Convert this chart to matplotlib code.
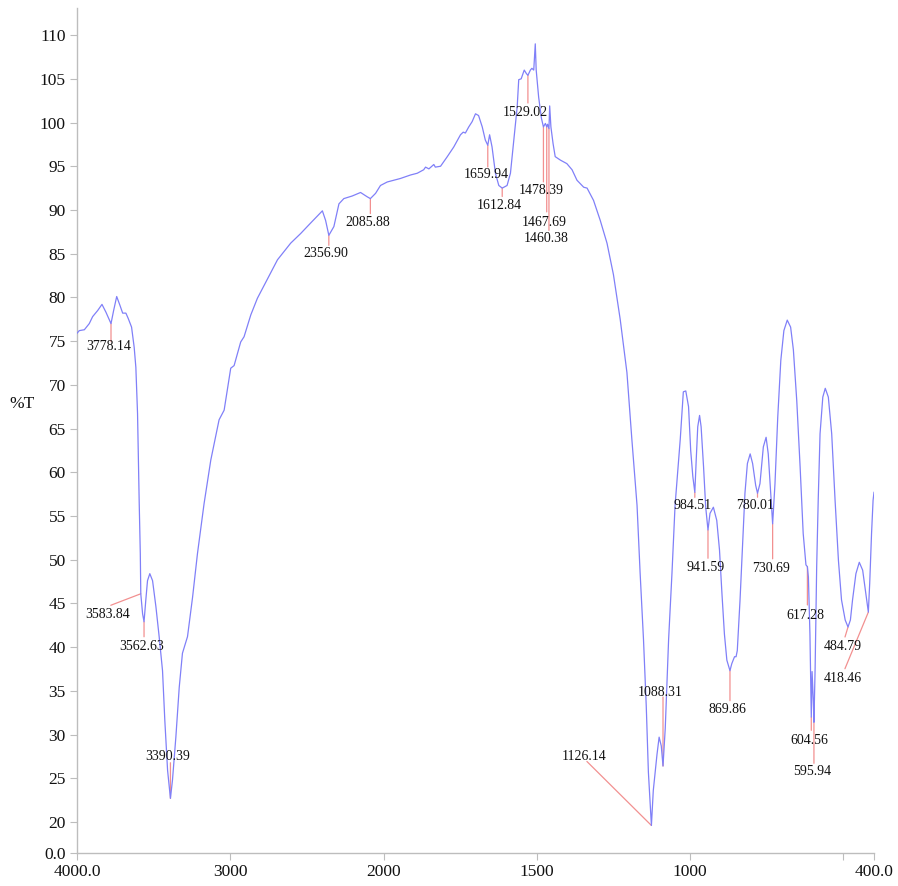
import numpy as np
import matplotlib
matplotlib.use("Agg")
import matplotlib.pyplot as plt

# ---------------- data ----------------
wavenumber = [4000, 3985, 3952, 3920, 3898, 3865, 3837, 3811, 3778.14, 3761, 3741, 3720, 3702, 3681,
              3666, 3644, 3627, 3616, 3605, 3594, 3587, 3583.84, 3572, 3562.63, 3551, 3540, 3525,
              3507, 3485, 3464, 3442, 3427, 3409, 3390.39, 3377, 3355, 3333, 3312, 3279, 3246, 3214,
              3171, 3127, 3073, 3040, 2997, 2975, 2932, 2910, 2866, 2823, 2692, 2606, 2541, 2476,
              2399, 2378, 2356.90, 2324, 2291, 2259, 2204, 2150, 2106, 2085.88, 2052, 2020, 1988,
              1945, 1912, 1890, 1869, 1863, 1852, 1836, 1831, 1814, 1792, 1771, 1749, 1740, 1733,
              1722, 1711, 1700, 1690, 1678, 1668, 1659.94, 1654, 1646, 1635, 1624, 1612.84, 1597,
              1586, 1575, 1564, 1559, 1551, 1541, 1534, 1529.02, 1521, 1516, 1510, 1505, 1502,
              1494, 1485, 1478.39, 1472, 1467.69, 1465, 1460.38, 1458, 1454, 1447, 1440, 1423,
              1402, 1385, 1369, 1347, 1336, 1315, 1293, 1271, 1250, 1228, 1206, 1190, 1173, 1163,
              1152, 1143, 1136, 1126.14, 1120, 1108, 1101, 1094, 1088.31, 1081, 1070, 1059, 1049,
              1032, 1022, 1014, 1005, 998, 991, 984.51, 980, 975, 969, 964, 956, 949, 941.59, 935,
              924, 913, 904, 896, 888, 880, 869.86, 864, 855, 850, 846, 837, 828, 821, 813, 804,
              796, 786, 780.01, 772, 761, 752, 745, 737, 730.69, 723, 714, 704, 694, 683, 672, 663,
              652, 641, 631, 622, 617.28, 614, 609, 604.56, 602, 598, 595.94, 592, 587, 582, 576,
              567, 559, 549, 538, 527, 516, 506, 494, 484.79, 477, 470, 459, 448, 437, 428, 418.46,
              414, 408, 403, 400]
transmittance = [75.9, 76.2, 76.3, 77.0, 77.8, 78.5, 79.2, 78.3, 77.0, 78.5, 80.1, 79.1, 78.2, 78.2,
                 77.6, 76.6, 74.3, 72.0, 66.7, 56.4, 50.7, 46.1, 43.8, 42.9, 45.4, 47.6, 48.4,
                 47.6, 44.6, 41.2, 37.3, 31.6, 25.9, 22.7, 24.8, 29.7, 35.4, 39.3, 41.2, 45.7, 50.7,
                 56.4, 61.4, 66.0, 67.1, 71.9, 72.2, 74.9, 75.5, 78.0, 79.9, 84.3, 86.2, 87.3, 88.5,
                 89.9, 88.8, 87.1, 88.1, 90.7, 91.3, 91.6, 92.0, 91.5, 91.3, 91.9, 92.8, 93.2,
                 93.6, 94.0, 94.2, 94.6, 94.9, 94.7, 95.2, 94.9, 95.0, 96.1, 97.2, 98.6, 98.9, 98.8,
                 99.5, 100.1, 101.0, 100.8, 99.5, 98.0, 97.4, 98.6, 97.2, 94.2, 92.8, 92.5, 92.8,
                 94.2, 98.0, 101.8, 104.9, 105.0, 106.0, 105.6, 105.4, 106.0, 106.2, 106.0, 109.0, 106.0,
                 102.9, 100.5, 99.5, 99.9, 99.5, 99.8, 99.3, 101.9, 99.5, 97.6, 96.1, 95.7,
                 95.3, 94.6, 93.4, 92.6, 92.5, 91.1, 88.8, 86.2, 82.6, 77.5, 71.4, 63.8, 56.2, 48.5,
                 40.9, 33.3, 25.7, 19.6, 23.6, 27.7, 29.7, 28.7, 26.4, 30.7, 40.9, 48.5, 56.2,
                 63.8, 69.2, 69.3, 67.5, 62.5, 59.5, 57.7, 61.4, 65.2, 66.5, 65.2, 60.6, 56.0, 53.4, 55.3,
                 56.0, 54.5, 51.1, 46.1, 41.5, 38.5, 37.3, 38.1, 38.9, 38.9, 39.6, 45.4, 52.2, 57.6, 61.0, 62.1,
                 61.0, 58.5, 57.6, 58.7, 62.9, 64.0, 62.1, 57.6, 54.1, 58.7, 66.3, 72.8, 76.2, 77.4, 76.6, 74.0,
                 68.2, 60.6, 53.0, 49.4, 49.2, 48.0, 41.5, 32.0, 37.2, 33.9, 31.4, 37.7, 49.2, 56.8, 64.4,
                 68.6, 69.6, 68.6, 64.4, 56.8, 49.9, 45.4, 43.1, 42.3, 43.1, 45.4, 48.4, 49.7, 48.8, 46.5, 44.0,
                 47.3, 53.0, 56.8, 57.7]

peak_wn = [3778.14, 3583.84, 3562.63, 3390.39, 2356.90, 2085.88, 1659.94, 1612.84, 1529.02,
           1478.39, 1467.69, 1460.38, 1126.14, 1088.31, 984.51, 941.59, 869.86, 780.01,
           730.69, 617.28, 604.56, 595.94, 484.79, 418.46]
peak_T = [77.0, 46.1, 42.9, 22.7, 87.1, 91.3, 97.4, 92.5, 105.4,
          99.5, 99.5, 99.3, 19.6, 26.4, 57.7, 53.4, 37.3, 57.6,
          54.1, 49.2, 32.0, 31.4, 42.3, 44.0]

x_ticks = [4000, 3000, 2000, 1500, 1000, 500, 400]
x_tick_labels = ["4000.0", "3000", "2000", "1500", "1000", "", "400.0"]
y_ticks = [16.45, 20, 25, 30, 35, 40, 45, 50, 55, 60, 65, 70, 75, 80, 85, 90, 95, 100, 105, 110]
y_tick_labels = ["0.0"] + [str(v) for v in y_ticks[1:]]

# ---------------- layout (pixel offsets of leader lines / labels from each peak) ----------------
line_dx = [0, -30, 0, 0, 0, 0, 0, 0, 0, 0, 0, 0, -64.5, 0, 0, 0, 0, 0, 0, 0, 0, 0, -3, -23.4]
line_dy = [-18, -11.5, -15, 35.6, -10, -15, -21.7, -8.4, -27.7, -55, -85, -101.7, 64, 69,
           -5, -28.3, -30, -4, -35, -38.3, -13.3, -41, -10, -56.6]
text_dx = [-2.5, -33.5, -2.5, -2.6, -2.7, -2.3, -1.9, -2.8, -2.8, -2.6, -2.6, -2.4, -67, -2.8,
           -2.7, -2.3, -2.3, -2.4, -1.5, -2.3, -2.2, -2.1, -5, -25.4]
text_dy = [-22, -20, -23.3, 43.3, -17.3, -22.4, -28.3, -16.7, -36, -62.6, -94, -108.4, 70, 75,
           -12.3, -36.7, -37.3, -10.7, -43.4, -47.3, -22.6, -48, -18.3, -65]

plt.rcParams['font.family'] = ['Liberation Serif', 'DejaVu Serif']

W, H = 898, 886
fig = plt.figure(figsize=(W / 100, H / 100), dpi=100)
ax = fig.add_axes([77 / W, 33 / H, 797 / W, 845 / H])


def fwd(x):
    x = np.asarray(x, dtype=float)
    return np.where(x <= 2000, x, 2000 + (x - 2000) / 2.0)


def inv(u):
    u = np.asarray(u, dtype=float)
    return np.where(u <= 2000, u, 2000 + 2.0 * (u - 2000))


ax.set_xscale('function', functions=(fwd, inv))
ax.plot(wavenumber, transmittance, color='#8080f8', lw=0.9, zorder=3)
ax.set_xlim(4000, 400)
ax.set_ylim(16.45, 113.1)

line_col = '#f29090'
for i, wn in enumerate(peak_wn):
    xy = (wn, peak_T[i])
    ax.annotate('', xy=xy, xytext=(line_dx[i], line_dy[i]), textcoords='offset pixels',
                arrowprops=dict(arrowstyle='-', color=line_col, lw=0.9, shrinkA=0, shrinkB=0),
                zorder=2)
    ax.annotate(f"{wn:.2f}", xy=xy, xytext=(text_dx[i], text_dy[i] - 4.6), textcoords='offset pixels',
                ha='center', va='baseline', fontsize=10, color='#111111', zorder=4)

ax.set_xticks(x_ticks)
ax.set_xticklabels(x_tick_labels)
ax.set_yticks(y_ticks)
ax.set_yticklabels(y_tick_labels)
ax.xaxis.set_minor_locator(matplotlib.ticker.NullLocator())
ax.yaxis.set_minor_locator(matplotlib.ticker.NullLocator())

for s in ['top', 'right']:
    ax.spines[s].set_visible(False)
for s in ['left', 'bottom']:
    ax.spines[s].set_color('#bdbdbd')
    ax.spines[s].set_linewidth(1.0)

ax.tick_params(axis='both', colors='#bdbdbd', labelcolor='#111111', labelsize=12.5,
               length=5, width=0.8, direction='out')
ax.tick_params(axis='y', pad=3)
ax.tick_params(axis='x', pad=3)

ax.set_ylabel('%T', rotation=0, fontsize=12.5, color='#111111', ha='center', va='center')
ax.yaxis.set_label_coords(-0.069, 0.531)

fig.savefig('out.png', dpi=100)
